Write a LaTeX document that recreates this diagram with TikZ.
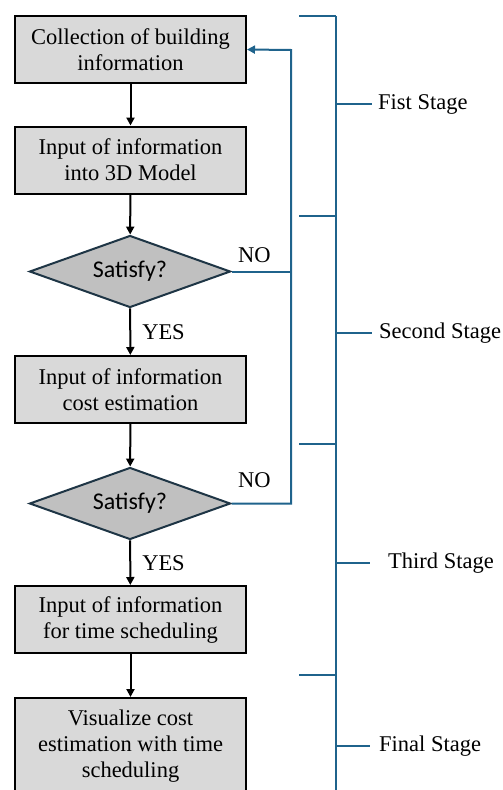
\documentclass[tikz,border=0pt]{standalone}
\usepackage{fontspec}
\setmainfont{Liberation Serif}
\newfontfamily\decfont{Carlito}
\usetikzlibrary{shapes.geometric,arrows.meta}
\definecolor{stageblue}{HTML}{1F638C}
\definecolor{boxgray}{HTML}{D9D9D9}
\definecolor{diagray}{HTML}{C0C0C0}
\definecolor{diaedge}{HTML}{1E3545}
\begin{document}
\begin{tikzpicture}[x=1pt,y=-1pt,
  font=\fontsize{22.5}{26}\selectfont,
  stepbox/.style={draw=black, line width=2pt, fill=boxgray, minimum width=231pt,
    minimum height=67pt, align=center, inner sep=0pt},
  decision/.style={diamond, aspect=2.8, draw=diaedge, line width=2pt, fill=diagray,
    minimum width=201pt, minimum height=72pt, inner sep=0pt,
    font=\decfont\fontsize{24}{28}\selectfont},
  flow/.style={draw=black, line width=2pt, -{Triangle[length=8pt,width=8pt]}},
  fb/.style={draw=stageblue, line width=2pt},
  stageline/.style={draw=stageblue, line width=2pt},
  lbl/.style={inner sep=0pt, anchor=west}]
\useasboundingbox (0,0) rectangle (503,790);

% process steps
\node[stepbox] (b1) at (130.5,49.5) {Collection of building\\information};
\node[stepbox] (b2) at (130.5,160) {Input of information\\into 3D Model};
\node[decision] (d1) at (130,271.5) {Satisfy?};
\node[stepbox] (b3) at (130.5,389.5) {Input of information\\cost estimation};
\node[decision] (d2) at (130,503.5) {Satisfy?};
\node[stepbox] (b4) at (130.5,619.5) {Input of information\\for time scheduling};
\node[stepbox, minimum height=96pt] (b5) at (130.5,746) {Visualize cost\\estimation with time\\scheduling};

% main flow
\draw[flow] (b1) -- (b2);
\draw[flow] (b2) -- (d1);
\draw[flow] (d1) -- node[lbl, xshift=11pt] (y1) {YES} (b3);
\draw[flow] (b3) -- (d2);
\draw[flow] (d2) -- node[lbl, xshift=11pt] (y2) {YES} (b4);
\draw[flow] (b4) -- (b5);

% feedback loops
\coordinate (fbtop) at (291,50);
\draw[fb] (d1.east) -- (d1.east -| fbtop);
\draw[fb, -{Triangle[length=8pt,width=8pt]}] (d2.east) -| (fbtop) -- (b1.east);
\node[lbl] (n1) at (238,255) {NO};
\node[lbl] (n2) at (238,480) {NO};

% stage bracket
\coordinate (st) at (336,16);
\coordinate (sb) at (336,800);
\draw[stageline] (st) -- (sb);
\foreach \yy/\nm in {16/t1,216/t2,444/t3,675/t4}{
  \coordinate (\nm) at (299,\yy);
  \draw[stageline] (\nm) -- (\nm -| st);
}
\node[lbl] (s1) at (378,104) {Fist Stage};
\node[lbl] (s2) at (379,333) {Second Stage};
\node[lbl] (s3) at (388,563) {Third Stage};
\node[lbl] (s4) at (379,746) {Final Stage};
\draw[stageline] (s1.west -| st) -- ([xshift=-6pt]s1.west);
\draw[stageline] (s2.west -| st) -- ([xshift=-7pt]s2.west);
\draw[stageline] (s3.west -| st) -- ([xshift=-18pt]s3.west);
\draw[stageline] (s4.west -| st) -- ([xshift=-9pt]s4.west);
\end{tikzpicture}
\end{document}
